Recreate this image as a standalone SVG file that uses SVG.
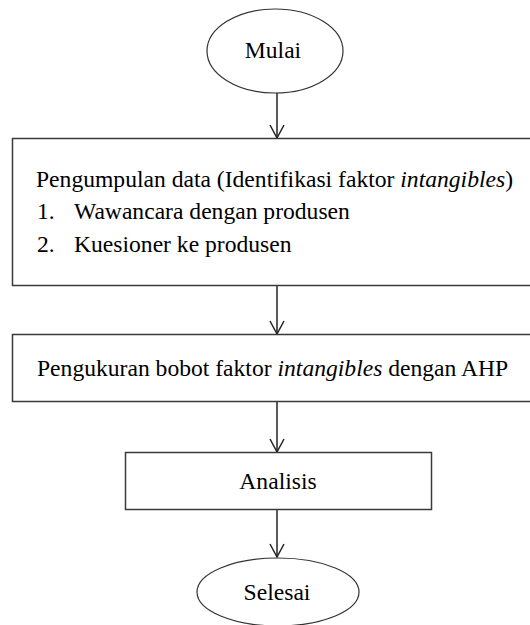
<svg xmlns="http://www.w3.org/2000/svg" width="530" height="625" viewBox="0 0 530 625">
<style>
.shape{fill:#fff;stroke:#3a3a3a;stroke-width:1.5}
.ell{fill:#fff;stroke:#333;stroke-width:1.2}
.t{font-family:'Liberation Serif','DejaVu Serif',serif;font-size:23.6px;fill:#000}
.c{text-anchor:middle}
.it{font-style:italic}
.conn{stroke:#222;stroke-width:1.5;fill:none}
</style>
<rect width="530" height="625" fill="#fff"/>
<g id="connectors">
<line class="conn" x1="277" y1="93" x2="277" y2="138"/>
<path class="conn" d="M270,125 L277,138 L284,125"/>
<line class="conn" x1="277" y1="286" x2="277" y2="334"/>
<path class="conn" d="M270,321 L277,334 L284,321"/>
<line class="conn" x1="277" y1="402" x2="277" y2="452"/>
<path class="conn" d="M270,439 L277,452 L284,439"/>
<line class="conn" x1="277" y1="510" x2="277" y2="557"/>
<path class="conn" d="M270,544 L277,557 L284,544"/>
</g>
<g id="mulai">
<ellipse class="ell" cx="275" cy="51" rx="68" ry="42"/>
<text class="t c" x="273" y="58">Mulai</text>
</g>
<g id="pengumpulan">
<rect class="shape" x="12.5" y="138.5" width="530" height="147"/>
<text class="t" x="36" y="187">Pengumpulan data (Identifikasi faktor <tspan class="it">intangibles</tspan>)</text>
<text class="t" x="37" y="219">1.</text>
<text class="t" x="74" y="219">Wawancara dengan produsen</text>
<text class="t" x="37" y="252">2.</text>
<text class="t" x="74" y="252">Kuesioner ke produsen</text>
</g>
<g id="pengukuran">
<rect class="shape" x="12.5" y="334.5" width="530" height="67"/>
<text class="t" x="37" y="376">Pengukuran bobot faktor <tspan class="it">intangibles</tspan> dengan AHP</text>
</g>
<g id="analisis">
<rect class="shape" x="125.5" y="452.5" width="306" height="57"/>
<text class="t c" x="278" y="489">Analisis</text>
</g>
<g id="selesai">
<ellipse class="ell" cx="278" cy="592" rx="81" ry="34"/>
<text class="t c" x="277" y="600">Selesai</text>
</g>
</svg>
